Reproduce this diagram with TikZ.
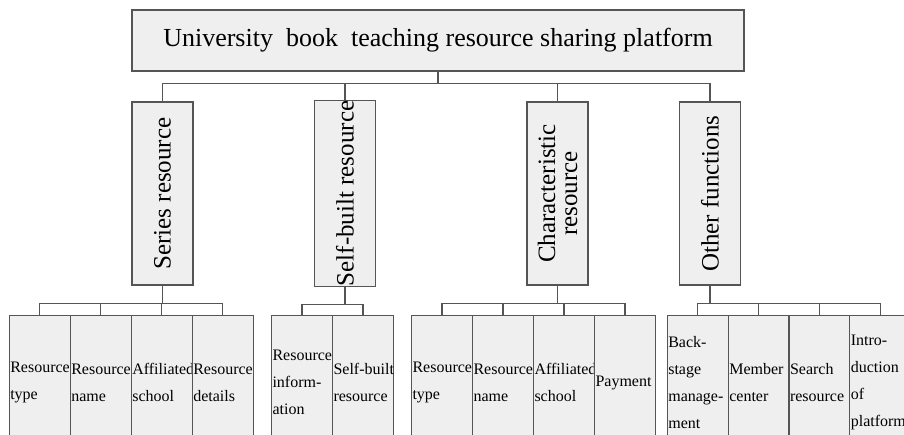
\documentclass[tikz,border=0pt]{standalone}
\usepackage{fontspec}
\setmainfont{Liberation Serif}
\definecolor{boxfill}{HTML}{EFEFEF}
\definecolor{boxline}{HTML}{555555}

\begin{document}
\begin{tikzpicture}[x=1pt, y=1pt,
    every node/.style={draw=boxline, fill=boxfill, line width=1.2pt, inner sep=0pt},
    rootbox/.style={minimum width=612, minimum height=61, font=\fontsize{26}{28}\selectfont},
    groupbox/.style={rotate=90, minimum width=183, minimum height=61, align=center, font=\fontsize{25}{22}\selectfont},
    leafbox/.style={anchor=north, minimum width=61, minimum height=134, text width=59, inner xsep=1pt, align=left, font=\fontsize{16}{27}\selectfont},
    conn/.style={draw=boxline, line width=1.2pt}]
    \useasboundingbox (0,0) rectangle (904,-435);
    \clip (0,0) rectangle (904,-435);

    \node[rootbox] (root) at (438,-40.5) {University\ \ book\ \ teaching resource sharing platform};

    \node[groupbox] (ser) at (162.5,-193.5) {Series resource};
    \node[groupbox] (self) at (345,-193.5) {Self-built resource};
    \node[groupbox] (char) at (557.5,-193.5) {Characteristic\\resource};
    \node[groupbox] (oth) at (710,-193.5) {Other functions};

    \foreach \g in {ser,self,char,oth}
        \draw[conn] (root.south) -- ++(0,-12) -| (\g.east);

    % series resource
    \node[leafbox] (s1) at (39.8,-315) {Resource\\type};
    \node[leafbox] (s2) at (100.8,-315) {Resource\\name};
    \node[leafbox] (s3) at (161.8,-315) {Affiliated\\school};
    \node[leafbox] (s4) at (222.8,-315) {Resource\\details};

    % self-built resource
    \node[leafbox] (b1) at (302,-315) {Resource\\inform-\\ation};
    \node[leafbox] (b2) at (363,-315) {\mbox{Self-built}\\resource};

    % characteristic resource
    \node[leafbox] (c1) at (442,-315) {Resource\\type};
    \node[leafbox] (c2) at (503,-315) {Resource\\name};
    \node[leafbox] (c3) at (564,-315) {Affiliated\\school};
    \node[leafbox] (c4) at (625,-315) {Payment};

    % other functions
    \node[leafbox] (o1) at (697.8,-315) {Back-\\stage\\manage-\\ment};
    \node[leafbox] (o2) at (758.8,-315) {Member\\center};
    \node[leafbox] (o3) at (819.5,-315) {Search\\resource};
    \node[leafbox] (o4) at (880.3,-315) {Intro-\\duction\\of\\platform};

    \foreach \c in {s1,s2,s3,s4}
        \draw[conn] (ser.west) -- ++(0,-18) -| (\c.north);
    \foreach \c in {b1,b2}
        \draw[conn] (self.west) -- ++(0,-18) -| (\c.north);
    \foreach \c in {c1,c2,c3,c4}
        \draw[conn] (char.west) -- ++(0,-18) -| (\c.north);
    \foreach \c in {o1,o2,o3,o4}
        \draw[conn] (oth.west) -- ++(0,-18) -| (\c.north);
\end{tikzpicture}
\end{document}
